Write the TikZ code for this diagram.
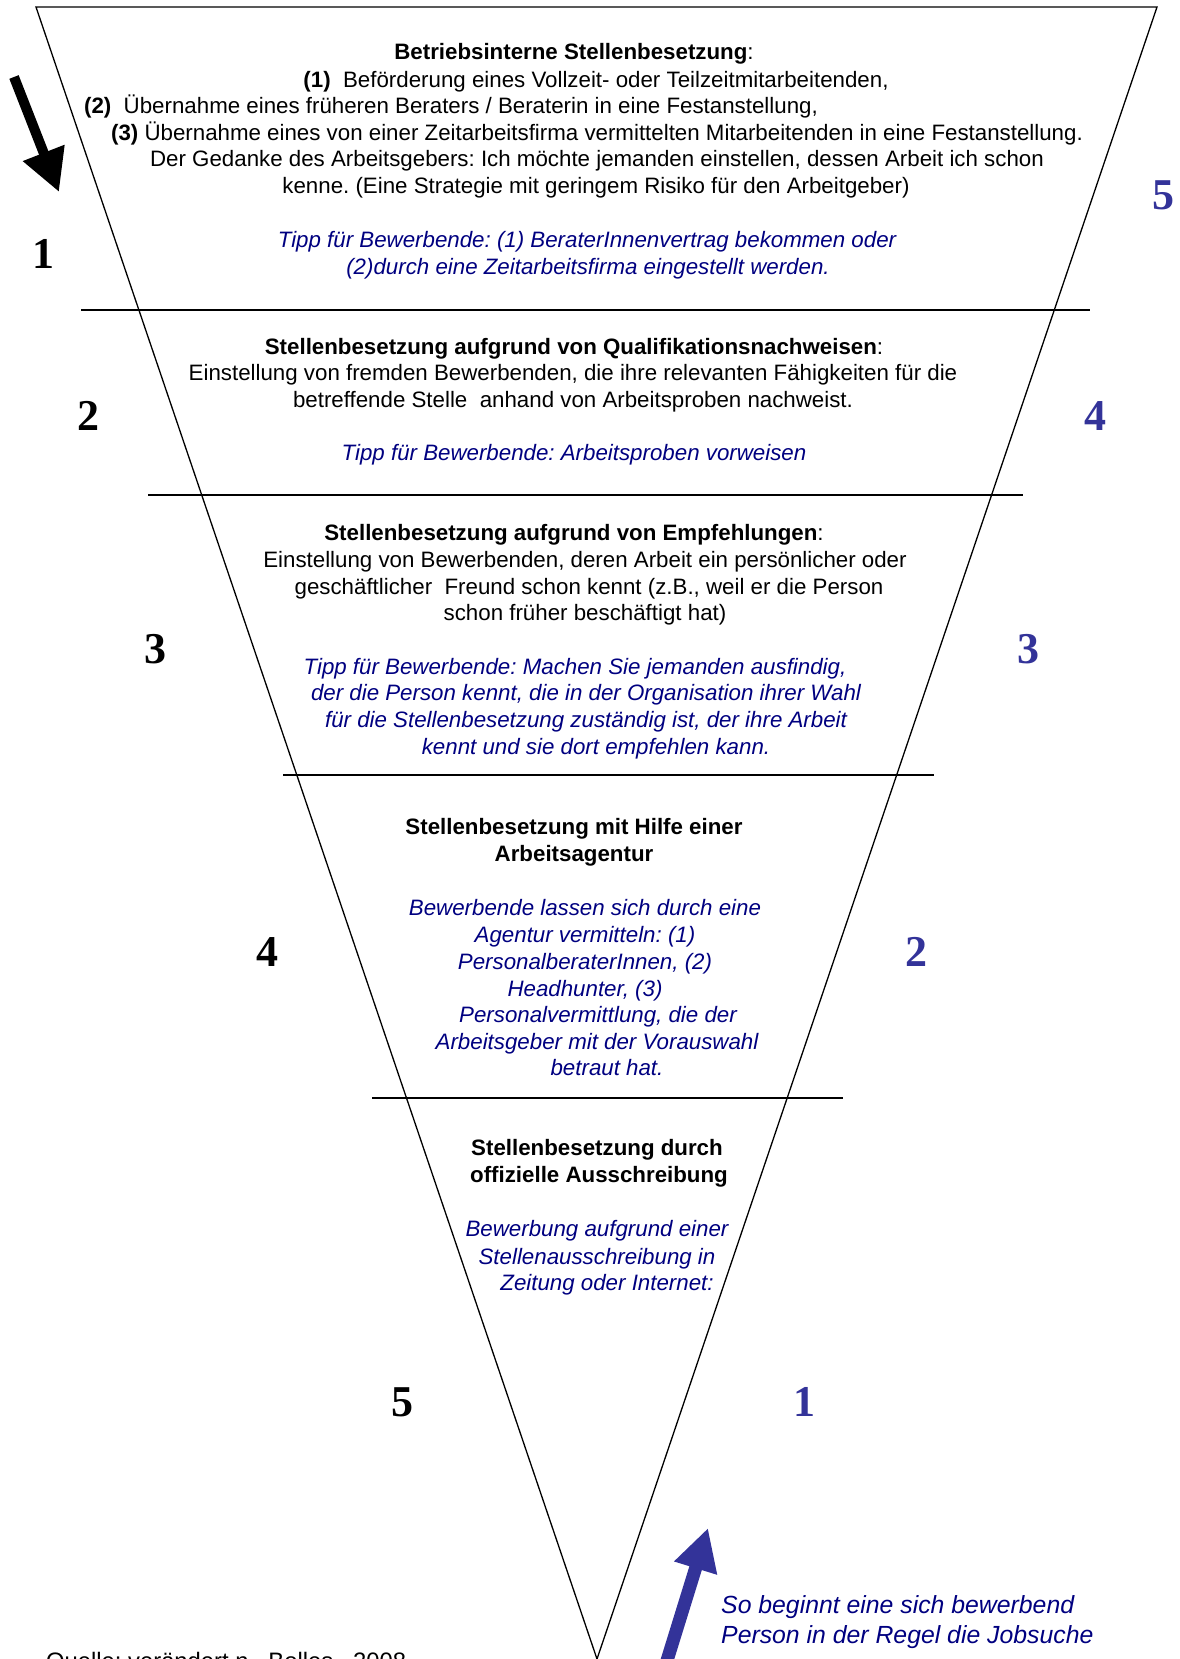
\documentclass[tikz,border=0pt]{standalone}
\usepackage{fontspec}
\setmainfont{Liberation Sans}
\newfontfamily\numfont{Liberation Serif}
\usetikzlibrary{arrows.meta}
\frenchspacing

\definecolor{hintblue}{RGB}{0,0,128}
\definecolor{rankblue}{RGB}{51,51,153}

\tikzset{
  txt/.style={font=\fontsize{22.3}{26.7}\selectfont, inner sep=0pt, anchor=mid, yshift=-5pt},
  hint/.style={txt, text=hintblue, font=\fontsize{22.3}{26.7}\selectfont\itshape},
  ranknum/.style={font=\fontsize{44}{44}\selectfont\numfont\bfseries, inner sep=0pt},
  rim/.style={line width=1.3pt},
  divider/.style={line width=1.8pt},
  bigarrow/.style={-{Triangle[length=42pt,width=42pt]}},
}

\begin{document}
\begin{tikzpicture}[x=1pt,y=-1pt]
  \useasboundingbox (0,0) rectangle (1179,1659);
  % Funnel outline
  \coordinate (tl) at (36,7);
  \coordinate (tr) at (1157,7);
  \coordinate (apex) at (597,1659);
  \draw[rim] (tl) -- (tr) -- (apex) -- cycle;
  % Dividing lines between the levels
  \foreach \y/\a/\b in {310/81/1090, 495/148/1023, 775/283/934, 1098/372/843}{
    \draw[divider] (\a,\y) -- (\b,\y);
  }
  % Ranks seen by the employer (left) and by the applicant (right)
  \foreach \x/\y/\n in {43/254/1, 88/416/2, 155/649/3, 267/952/4, 402/1402/5}{
    \node[ranknum] (l\n) at (\x,\y) {\n};
  }
  \foreach \x/\y/\n in {1163/195/5, 1095/416/4, 1028/649/3, 916/952/2, 804/1402/1}{
    \node[ranknum, text=rankblue] (r\n) at (\x,\y) {\n};
  }
  % Level 1
  \node[txt] (b1t) at (574,52) {\textbf{Betriebsinterne Stellenbesetzung}:};
  \foreach \x/\y/\words [count=\i] in {
      596/80/{\textbf{(1)}\ \ Beförderung eines Vollzeit- oder Teilzeitmitarbeitenden,},
      451/106/{\textbf{(2)}\ \ Übernahme eines früheren Beraters / Beraterin in eine Festanstellung,},
      597/133/{\textbf{(3)} Übernahme eines von einer Zeitarbeitsfirma vermittelten Mitarbeitenden in eine Festanstellung.},
      597/159/{Der Gedanke des Arbeitsgebers: Ich möchte jemanden einstellen, dessen Arbeit ich schon},
      596/186/{kenne. (Eine Strategie mit geringem Risiko für den Arbeitgeber)}}{
    \node[txt] (b1-\i) at (\x,\y) {\words};
  }
  \node[hint] (h1a) at (587,240) {Tipp für Bewerbende: (1) BeraterInnenvertrag bekommen oder};
  \node[hint] (h1b) at (588,267) {(2)durch eine Zeitarbeitsfirma eingestellt werden.};
  % Level 2
  \node[txt] (b2t) at (574,347) {\textbf{Stellenbesetzung aufgrund von Qualifikationsnachweisen}:};
  \node[txt] (b2-1) at (573,373) {Einstellung von fremden Bewerbenden, die ihre relevanten Fähigkeiten für die};
  \node[txt] (b2-2) at (573,400) {betreffende Stelle\ \ anhand von Arbeitsproben nachweist.};
  \node[hint] (h2) at (574,453) {Tipp für Bewerbende: Arbeitsproben vorweisen};
  % Level 3
  \node[txt] (b3t) at (574,533) {\textbf{Stellenbesetzung aufgrund von Empfehlungen}:};
  \foreach \x/\y/\words [count=\i] in {
      585/560/{Einstellung von Bewerbenden, deren Arbeit ein persönlicher oder},
      589/587/{geschäftlicher\ \ Freund schon kennt (z.B., weil er die Person},
      585/613/{schon früher beschäftigt hat)}}{
    \node[txt] (b3-\i) at (\x,\y) {\words};
  }
  \foreach \x/\y/\words [count=\i] in {
      575/667/{Tipp für Bewerbende: Machen Sie jemanden ausfindig,},
      586/693/{der die Person kennt, die in der Organisation ihrer Wahl},
      586/720/{für die Stellenbesetzung zuständig ist, der ihre Arbeit},
      596/747/{kennt und sie dort empfehlen kann.}}{
    \node[hint] (h3-\i) at (\x,\y) {\words};
  }
  % Level 4
  \node[txt, font=\fontsize{22.3}{26.7}\selectfont\bfseries] (b4t) at (574,827) {Stellenbesetzung mit Hilfe einer};
  \node[txt, font=\fontsize{22.3}{26.7}\selectfont\bfseries] (b4u) at (574,854) {Arbeitsagentur};
  \foreach \x/\y/\words [count=\i] in {
      585/908/{Bewerbende lassen sich durch eine},
      585/935/{Agentur vermitteln: (1)},
      585/962/{PersonalberaterInnen, (2)},
      585/989/{Headhunter, (3)},
      598/1015/{Personalvermittlung, die der},
      597/1042/{Arbeitsgeber mit der Vorauswahl},
      607/1068/{betraut hat.}}{
    \node[hint] (h4-\i) at (\x,\y) {\words};
  }
  % Level 5
  \node[txt, font=\fontsize{22.3}{26.7}\selectfont\bfseries] (b5t) at (597,1148) {Stellenbesetzung durch};
  \node[txt, font=\fontsize{22.3}{26.7}\selectfont\bfseries] (b5u) at (599,1175) {offizielle Ausschreibung};
  \node[hint] (h5-1) at (597,1229) {Bewerbung aufgrund einer};
  \node[hint] (h5-2) at (597,1257) {Stellenausschreibung in};
  \node[hint] (h5-3) at (607,1283) {Zeitung oder Internet:};
  % Reading directions
  \coordinate (down0) at (14,77);
  \coordinate (down1) at (59,192);
  \draw[bigarrow, line width=10pt] (down0) -- (down1);
  \coordinate (up0) at (661,1680);
  \coordinate (up1) at (708,1528);
  \draw[bigarrow, line width=13pt, rankblue] (up0) -- (up1);
  \node[hint, anchor=mid west, font=\fontsize{24.8}{30}\selectfont\itshape] (start1) at (721,1606) {So beginnt eine sich bewerbend};
  \node[hint, anchor=mid west, font=\fontsize{24.8}{30}\selectfont\itshape] (start2) at (721,1636) {Person in der Regel die Jobsuche};
  % Source, cut off by the page edge
  \node[txt, anchor=base west, font=\fontsize{23.8}{28}\selectfont] (src) at (46,1664) {Quelle: verändert n.\ \ Bolles,\ \ 2008};
\end{tikzpicture}
\end{document}
